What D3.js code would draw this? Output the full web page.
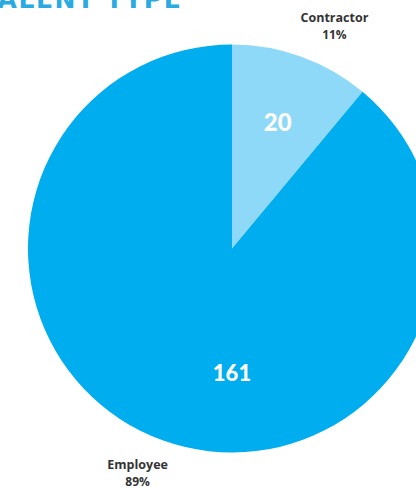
<!DOCTYPE html>
<html>
<head>
<meta charset="utf-8">
<script src="https://cdn.jsdelivr.net/npm/d3@7"></script>
<style>
  html, body { margin: 0; padding: 0; background: #fff; overflow: hidden; }
  svg { display: block; }
</style>
</head>
<body>
<svg id="chart" width="416" height="487"></svg>
<script>
// Talent type breakdown
const categories = ["Contractor", "Employee"];
const counts = [20, 161];
const shares = ["11%", "89%"];
const sliceColors = ["#8fd9f8", "#00adee"];
const titleText = "TALENT TYPE";

const width = 416, height = 487;
const cx = 232, cy = 248.5, radius = 204;

const svg = d3.select("#chart");

// Title (partly clipped at the top-left edge)
svg.append("text")
  .attr("x", -19)
  .attr("y", 8)
  .attr("font-family", "DejaVu Sans, sans-serif")
  .attr("font-weight", "bold")
  .attr("font-size", 25)
  .attr("letter-spacing", 1.5)
  .attr("fill", "#29abe2")
  .text(titleText);

const data = categories.map((c, i) => ({ name: c, value: counts[i], share: shares[i], color: sliceColors[i] }));

const pie = d3.pie().value(d => d.value).sort(null);
const arcs = pie(data);

const arc = d3.arc().innerRadius(0).outerRadius(radius);

const g = svg.append("g").attr("transform", `translate(${cx},${cy})`);

g.selectAll("path.slice")
  .data(arcs)
  .join("path")
  .attr("class", "slice")
  .attr("d", arc)
  .attr("fill", d => d.data.color);

// Value labels inside slices: small slices at their mid-angle,
// the dominant slice straight below the centre.
const isMajor = d => (d.endAngle - d.startAngle) > Math.PI;
const labelAngle = d => isMajor(d) ? Math.PI : (d.startAngle + d.endAngle) / 2;
const innerR = d => isMajor(d) ? 125 : 134.5;

g.selectAll("text.value")
  .data(arcs)
  .join("text")
  .attr("class", "value")
  .attr("x", d => innerR(d) * Math.sin(labelAngle(d)))
  .attr("y", d => -innerR(d) * Math.cos(labelAngle(d)))
  .attr("dy", "0.36em")
  .attr("text-anchor", "middle")
  .attr("font-family", "Lato, sans-serif")
  .attr("font-weight", 900)
  .attr("font-size", d => isMajor(d) ? 22 : 24)
  .attr("fill", "#ffffff")
  .text(d => d.value);

// Outer category labels, set just outside the rim past each slice's mid-angle
const outerR = 244;
const outer = g.selectAll("g.outer")
  .data(arcs)
  .join("g")
  .attr("class", "outer")
  .attr("transform", d => {
    const a = (d.startAngle + d.endAngle) / 2 + 0.068;
    return `translate(${outerR * Math.sin(a) + 4},${-outerR * Math.cos(a) + 1})`;
  });

outer.append("text")
  .attr("text-anchor", "middle")
  .attr("y", -4)
  .attr("font-family", "Open Sans, sans-serif")
  .attr("font-weight", "bold")
  .attr("font-size", 12.5)
  .attr("fill", "#333")
  .text(d => d.data.name);

outer.append("text")
  .attr("text-anchor", "middle")
  .attr("y", 13)
  .attr("font-family", "Open Sans, sans-serif")
  .attr("font-weight", "bold")
  .attr("font-size", 12)
  .attr("fill", "#333")
  .text(d => d.data.share);
</script>
</body>
</html>
